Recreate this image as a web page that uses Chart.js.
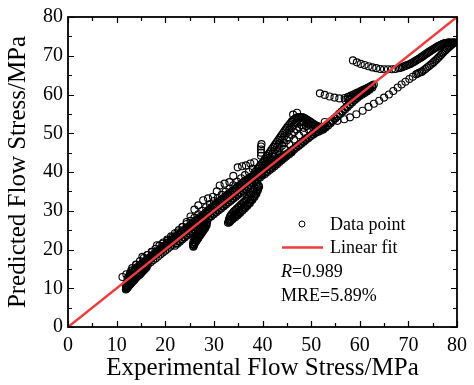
<!DOCTYPE html>
<html>
<head>
<meta charset="utf-8">
<script src="https://cdn.jsdelivr.net/npm/chart.js@4.4.1/dist/chart.umd.min.js"></script>
<style>
  html, body { margin: 0; padding: 0; background: #fff; }
  canvas { display: block; }
</style>
</head>
<body>
<canvas id="chart" width="474" height="385"></canvas>
<script>
// axis ticks
const xTicks = [0, 10, 20, 30, 40, 50, 60, 70, 80];
const yTicks = [0, 10, 20, 30, 40, 50, 60, 70, 80];

// linear fit (y = x)
const fitX = [0, 80];
const fitY = [0, 80];

// legend / stats text
const legendLabels = ['Data point', 'Linear fit'];
const statR = '0.989';
const statMRE = '5.89%';

// experimental vs predicted points, grouped by curve
const lowBlob = [
  [11.9,9.7],[12.1,10.0],[12.3,10.3],[12.5,10.6],[12.7,10.9],[12.9,11.2],[13.1,11.5],[13.3,11.8],[13.5,12.0],
  [13.7,12.3],[13.9,12.6],[14.1,12.9],[14.4,13.2],[14.7,13.5],[15.0,13.9],[15.3,14.3],[15.6,14.7],[15.9,15.1],[16.2,15.5],
  [11.9,10.6],[12.0,11.2],[12.2,11.7],[12.4,12.1],[12.7,12.4],[13.0,12.7],[13.3,13.0],[13.6,13.3],[13.9,13.6],
  [14.2,13.9],[14.5,14.2],[14.8,14.6],[15.1,15.0],[15.4,15.4],[15.7,15.8],[16.0,16.2],[16.3,16.6],
  [12.0,9.9],[12.2,10.15],[12.4,10.45],[12.6,10.75],[12.8,11.05],[13.0,11.35],[13.2,11.65],[13.4,11.9],[13.6,12.15],
  [13.8,12.45],[14.0,12.75],[14.25,13.05],[14.55,13.35],[14.85,13.7],[15.15,14.1],[15.45,14.5],[15.75,14.9],[16.05,15.3],
  [12.05,10.3],[12.25,10.6],[12.45,10.9],[12.65,11.2],[12.85,11.5],[13.05,11.8],[13.25,12.1],[13.45,12.4],[13.7,12.7],
  [13.95,13.0],[14.2,13.3],[14.5,13.6],[14.8,14.0],[15.1,14.4],[15.4,14.8],[15.7,15.2],[16.0,15.6]
];

const bandCore = [
  [12.5,13.0],[13.0,13.6],[13.5,14.2],[14.0,14.8],[14.5,15.4],[15.0,15.9],[15.5,16.4],[16.0,16.9],[16.5,17.4],[17.0,17.9],
  [17.5,18.4],[18.0,18.9],[18.5,19.4],[19.0,19.9],[19.5,20.4],[20.0,20.9],[20.5,21.4],[21.0,21.9],[21.5,22.4],[22.0,22.9],
  [22.5,23.4],[23.0,23.9],[23.5,24.4],[24.0,24.9],[24.5,25.4],[25.0,25.9],[25.5,26.4],[26.0,26.9],[26.5,27.4],[27.0,27.9],
  [27.5,28.4],[28.0,28.9],[28.5,29.5],[29.0,30.0],[29.5,30.6],[30.0,31.1],[30.5,31.6],[31.0,32.1],[31.5,32.6],[32.0,33.1],
  [32.5,33.6],[33.0,34.1],[33.5,34.6],[34.0,35.1],[34.5,35.6],[35.0,36.1],[35.5,36.6],[36.0,37.1],[36.5,37.6],[37.0,38.0],
  [37.5,38.4],[38.0,38.8],[38.5,39.2],[39.0,39.6],[39.5,40.0],[40.0,40.4],[40.5,40.8],[41.0,41.3],[41.5,41.7],[42.0,42.1],
  [42.5,42.5],[43.0,42.9],[43.5,43.3],[44.0,43.7],[44.5,44.1],[45.0,44.5],[45.5,44.9],[46.0,45.3],[46.5,45.8],[47.0,46.3],
  [47.5,46.8],[48.0,47.3],[48.5,47.8],[49.0,48.3],[49.5,48.8],[50.0,49.3],[50.5,49.7],[51.0,50.1],[51.5,50.4],[52.0,50.7],
  [52.5,51.0],[53.0,51.5],[53.5,52.0],[54.0,52.6],[54.5,53.2],[55.0,53.8],[55.5,54.4],[56.0,55.0],[56.5,55.6],[57.0,56.2],
  [57.5,56.8],[58.0,57.4],[58.5,58.0],[59.0,58.6],[59.5,59.1],[60.0,59.6],[60.5,60.0],[61.0,60.4],[61.5,60.8],[62.0,61.2]
];

const bandCoreB = [
  [12.75,13.85],[13.25,14.45],[13.75,15.0],[14.25,15.5],[14.75,16.0],[15.25,16.45],[15.75,16.95],[16.25,17.45],[16.75,17.95],
  [17.25,18.45],[17.75,18.95],[18.25,19.45],[18.75,19.95],[19.25,20.45],[19.75,20.95],[20.25,21.45],[20.75,21.95],[21.25,22.45],
  [21.75,22.95],[22.25,23.45],[22.75,23.95],[23.25,24.45],[23.75,24.95],[24.25,25.45],[24.75,25.95],[25.25,26.45],[25.75,26.95],
  [26.25,27.45],[26.75,27.95],[27.25,28.45],[27.75,28.95],[28.25,29.5],[28.75,30.05],[29.25,30.6],[29.75,31.1],[30.25,31.6],
  [30.75,32.1],[31.25,32.6],[31.75,33.1],[32.25,33.6],[32.75,34.1],[33.25,34.6],[33.75,35.1],[34.25,35.6],[34.75,36.1],
  [35.25,36.6],[35.75,37.1],[36.25,37.6],[36.75,38.05],[37.25,38.45],[37.75,38.85],[38.25,39.25],[38.75,39.65],[39.25,40.05],
  [39.75,40.45],[40.25,40.85],[40.75,41.3],[41.25,41.7],[41.75,42.1],[42.25,42.5],[42.75,42.9],[43.25,43.3],[43.75,43.7],
  [44.25,44.1],[44.75,44.5],[45.25,44.9],[45.75,45.3],[46.25,45.8],[46.75,46.3],[47.25,46.8],[47.75,47.3],[48.25,47.8],
  [48.75,48.3],[49.25,48.8],[49.75,49.3],[50.25,49.8],[50.75,50.2],[51.25,50.6],[51.75,50.9],[52.25,51.2],[52.75,51.6],
  [53.25,52.1],[53.75,52.6],[54.25,53.2],[54.75,53.8],[55.25,54.4],[55.75,55.0],[56.25,55.6],[56.75,56.2],[57.25,56.8],
  [57.75,57.4],[58.25,58.0],[58.75,58.6],[59.25,59.1],[59.75,59.6],[60.25,60.1],[60.75,60.5],[61.25,60.9],[61.75,61.3]
];

const bandCoreC = [
  [12.25,12.6],[12.75,13.2],[13.25,13.8],[13.75,14.3],[14.25,14.8],[14.75,15.3],[15.25,15.8],[15.75,16.3],[16.25,16.8],
  [16.75,17.3],[17.25,17.8],[17.75,18.3],[18.25,18.8],[18.75,19.3],[19.25,19.8],[19.75,20.3],[20.25,20.8],[20.75,21.3],
  [21.25,21.8],[21.75,22.3],[22.25,22.8],[22.75,23.3],[23.25,23.8],[23.75,24.3],[24.25,24.8],[24.75,25.3],[25.25,25.8],
  [25.75,26.3],[26.25,26.8],[26.75,27.3],[27.25,27.8],[27.75,28.3],[28.25,28.8],[28.75,29.3],[29.25,29.8],[29.75,30.3],
  [30.25,30.8],[30.75,31.3],[31.25,31.8],[31.75,32.3],[32.25,32.8],[32.75,33.3],[33.25,33.8],[33.75,34.3],[34.25,34.8],
  [34.75,35.3],[35.25,35.8],[35.75,36.3],[36.25,36.8],[36.75,37.3],[37.25,37.7],[37.75,38.1],[38.25,38.5],[38.75,38.9],
  [39.25,39.3],[39.75,39.7]
];

const bandLower = [
  [22.0,21.0],[22.5,21.5],[23.0,22.0],[23.5,22.6],[24.0,23.1],[24.5,23.6],[25.0,24.1],[25.5,24.6],[26.0,25.1],[26.5,25.6],
  [27.0,26.1],[27.5,26.6],[28.0,27.1],[28.5,27.6],[29.0,28.1],[29.5,28.6],[30.0,29.1],[30.5,29.6],[31.0,30.1],[31.5,30.6],
  [32.0,31.1],[32.5,31.6],[33.0,32.1],[33.5,32.6],[34.0,33.1],[34.5,33.6],[35.0,34.1],[35.5,34.6],[36.0,35.1],[36.5,35.6],
  [37.0,36.1],[37.5,36.6],[38.0,37.1],[38.5,37.6],[39.0,38.1],[39.5,38.6],[40.0,39.1],[40.5,39.5],[41.0,40.0],[41.5,40.5],
  [42.0,41.0],[42.5,41.5],[43.0,42.0],[43.5,42.6],[44.0,43.1],[44.5,43.6],[45.0,44.1],[45.5,44.6],[46.0,45.1]
];

const bandLowerB = [
  [16.5,16.2],[17.0,16.7],[17.5,17.2],[18.0,17.7],[18.5,18.2],[19.0,18.7],[19.5,19.2],[20.0,19.7],[20.5,20.2],[21.0,20.7],
  [21.5,21.2],[22.25,21.65],[22.75,22.15],[23.25,22.65],[23.75,23.15],[24.25,23.65],[24.75,24.15],[25.25,24.65],[25.75,25.15],
  [26.25,25.65],[26.75,26.15],[27.25,26.65],[27.75,27.15],[28.25,27.65],[28.75,28.15],[29.25,28.65],[29.75,29.15],[30.25,29.65],
  [30.75,30.15],[31.25,30.65],[31.75,31.15],[32.25,31.65],[32.75,32.15],[33.25,32.65],[33.75,33.15],[34.25,33.65],[34.75,34.15],
  [35.25,34.65],[35.75,35.15],[36.25,35.65],[36.75,36.15],[37.25,36.65],[37.75,37.15],[38.25,37.65],[38.75,38.15],[39.25,38.65],
  [39.75,39.15],[40.25,39.65],[40.75,40.15],[41.25,40.65],[41.75,41.15],[42.25,41.65],[42.75,42.15],[43.25,42.65],[43.75,43.15],
  [44.25,43.65],[44.75,44.15],[45.25,44.65],[45.75,45.15]
];

const bandUpper = [
  [13.2,15.2],[14.0,16.1],[14.8,17.0],[15.6,17.8],[16.4,18.6],[17.2,19.4],[18.0,20.2],[18.8,21.0],[19.6,21.8],[20.4,22.6],
  [21.2,23.4],[22.0,24.2],[22.8,25.0],[23.6,25.8],[24.4,26.6],[25.2,27.4],[26.0,28.2],[26.8,29.1],[27.6,30.0],[28.4,30.9],
  [29.2,31.7],[30.0,32.5],[30.8,33.3],[31.6,34.1],[32.4,34.9],[33.2,35.7],[34.0,36.6],[34.8,37.5],[35.6,38.4],[36.4,39.2],
  [37.2,40.0],[38.0,40.8]
];

const bandTop = [
  [11.2,12.9],[12.0,13.6],[13.0,14.6],[14.0,16.0],[15.3,18.1],[16.3,18.6],[17.3,19.4],[18.3,21.1],[19.4,21.5],[20.5,22.3],
  [21.5,23.2],[22.5,24.4],[23.5,25.8],[24.4,27.1],[25.2,28.5],[26.0,30.3],[26.8,31.4],[27.8,32.7],[28.8,33.2],[29.8,33.6],
  [30.6,35.0],[31.2,36.5],[32.2,37.0],[33.2,37.4],[34.0,39.0],[34.9,41.2],[35.8,41.5],[36.6,41.7],[37.5,42.2],[38.3,42.5],
  [39.7,44.2],[39.7,45.0],[39.7,45.8],[39.7,46.6],[39.8,47.2]
];

const hookA = [
  [28.6,27.0],[28.4,26.4],[28.2,25.8],[27.9,25.2],[27.6,24.6],[27.3,24.0],[27.0,23.4],[26.7,22.8],[26.4,22.2],[26.1,21.6],
  [25.9,21.1],[25.8,20.7],[28.0,26.8],[27.7,26.2],[27.4,25.6],[27.1,25.0],[26.8,24.4],[26.5,23.8],[26.2,23.2],[26.0,22.6],
  [25.8,22.0],[25.7,21.4],
  [28.3,26.7],[28.05,26.1],[27.75,25.5],[27.45,24.9],[27.15,24.3],[26.85,23.7],[26.55,23.1],[26.25,22.5],[26.0,21.9],[25.85,21.3],
  [28.5,26.2],[28.2,25.5],[27.85,24.85],[27.5,24.2],[27.15,23.6],[26.8,23.0],[26.45,22.4],[26.15,21.85],[25.95,21.35],[25.75,20.9]
];

const hookB = [
  [39.2,36.5],[39.0,35.6],[38.7,34.7],[38.3,33.8],[37.8,33.0],[37.3,32.2],[36.8,31.5],[36.3,30.9],[35.8,30.3],[35.3,29.7],
  [34.8,29.1],[34.3,28.6],[33.8,28.1],[33.4,27.6],[33.1,27.2],[32.9,26.9],[38.4,35.8],[38.0,34.9],[37.5,34.1],[37.0,33.3],
  [36.5,32.6],[36.0,32.0],[35.5,31.4],[35.0,30.8],[34.5,30.2],[34.0,29.6],[33.6,29.0],[33.3,28.4],[33.1,27.8],
  [39.1,36.0],[38.85,35.1],[38.5,34.2],[38.05,33.4],[37.55,32.6],[37.05,31.8],[36.55,31.2],[36.05,30.6],[35.55,30.0],
  [35.05,29.4],[34.55,28.8],[34.05,28.3],[33.6,27.8],[33.25,27.4],[38.8,36.2],[38.2,35.3],[37.7,34.5],[37.2,33.7],
  [36.7,33.0],[36.2,32.3],[35.7,31.7],[35.2,31.1],[34.7,30.5],[34.2,29.9],[33.8,29.3],[33.45,28.7],
  [39.3,36.2],[39.05,35.3],[38.75,34.4],[38.35,33.55],[37.9,32.75],[37.4,31.95],[36.9,31.3],[36.4,30.65],[35.9,30.05],
  [35.4,29.45],[34.9,28.85],[34.4,28.35],[33.9,27.85],[33.45,27.35],[33.15,27.0]
];

const archArm = [
  [38.5,40.0],[39.0,40.8],[39.5,41.6],[40.0,42.4],[40.5,43.3],[41.0,44.2],[41.5,45.1],[42.0,46.0],[42.5,46.9],[43.0,47.8],
  [43.5,48.7],[44.0,49.6],[44.5,50.5],[45.0,51.4],[45.5,52.2],[46.0,53.0],[46.5,53.6],[47.0,54.0],[47.5,54.2],[48.0,54.2],
  [48.5,54.0],[49.0,53.6],[49.5,53.2],[50.0,52.8],[50.5,52.4],[51.0,52.0],[51.5,51.7],[52.0,51.4],[52.5,51.2],
  [40.5,42.0],[41.0,42.9],[41.5,43.8],[42.0,44.7],[42.5,45.6],[43.0,46.5],[43.5,47.4],[44.0,48.3],[44.5,49.2],[45.0,50.0],
  [45.5,50.8],[46.0,51.5],[46.5,52.1],[47.0,52.6],[47.5,52.9],[48.0,53.0],[48.5,52.9],[49.0,52.6],[49.5,52.3],[50.0,52.0],
  [41.5,42.0],[42.5,43.3],[43.5,44.6],[44.5,45.9],[45.5,47.2],[46.5,48.4],[47.5,49.5],[48.5,50.4],[49.5,51.0],
  [46.3,54.8],[47.1,55.3]
];

const archArmB = [
  [38.75,40.4],[39.25,41.2],[39.75,42.0],[40.25,42.85],[40.75,43.75],[41.25,44.65],[41.75,45.55],[42.25,46.45],[42.75,47.35],
  [43.25,48.25],[43.75,49.15],[44.25,50.05],[44.75,50.95],[45.25,51.8],[45.75,52.6],[46.25,53.3],[46.75,53.8],[47.25,54.1],
  [47.75,54.2],[48.25,54.1],[48.75,53.8],[49.25,53.4],[49.75,53.0],[50.25,52.6],[50.75,52.2],[51.25,51.85],[51.75,51.55],
  [52.25,51.3],
  [40.0,41.2],[40.5,41.9],[41.0,42.6],[41.5,43.3],[42.0,44.0],[42.5,44.7],[43.0,45.4],[43.5,46.1],[44.0,46.8],[44.5,47.5],
  [45.0,48.2],[45.5,48.9],[46.0,49.6],[46.5,50.3],[47.0,51.0],[47.5,51.6],[48.0,52.1],[48.5,51.4],[49.0,51.8],[50.5,51.3],
  [51.0,51.2]
];

const midCurve = [
  [51.8,60.3],[52.8,59.9],[53.8,59.5],[54.8,59.2],[55.8,59.0],[56.9,59.1],[57.6,59.4],[58.2,59.7],[58.7,60.0],[59.2,60.3],
  [59.7,60.6],[60.2,60.9],[60.7,61.2],[61.2,61.5],[61.7,61.8],[62.2,62.1],[62.6,62.4],[62.9,62.6],
  [57.8,58.6],[58.4,59.0],[59.0,59.4],[59.6,59.8],[60.2,60.2],[60.8,60.6],[61.4,61.0],[62.0,61.4],[62.6,61.8],
  [58.0,59.0],[58.5,59.4],[59.0,59.8],[59.5,60.2],[60.0,60.5],[60.5,60.9],[61.0,61.2],[61.5,61.5],[62.0,61.8],[62.5,62.1],
  [57.5,58.9],[57.0,58.6]
];

const upperCurve = [
  [58.6,68.8],[59.4,68.3],[60.2,67.9],[61.0,67.6],[61.8,67.3],[62.6,67.0],[63.4,66.8],[64.2,66.6],[65.0,66.5],[65.8,66.5],
  [66.6,66.5],[67.3,66.6],[68.0,66.8],[68.6,67.0],[69.2,67.3],[69.8,67.6],[70.4,67.9],[71.0,68.3],[71.5,68.7],[72.0,69.1],
  [72.5,69.5],[73.0,69.9],[73.5,70.4],[74.0,70.8],[74.5,71.2],[75.0,71.6],[75.5,72.0],[76.0,72.4],[76.5,72.7],[77.0,73.0],
  [77.4,73.2],[77.8,73.3],[78.2,73.4],[78.5,73.4],[78.8,73.3],[79.1,73.4],
  [68.3,66.9],[68.9,67.15],[69.5,67.45],[70.1,67.75],[70.7,68.1],[71.25,68.5],[71.75,68.9],[72.25,69.3],[72.75,69.7],
  [73.25,70.15],[73.75,70.6],[74.25,71.0],[74.75,71.4],[75.25,71.8],[75.75,72.2],[76.25,72.55],[76.75,72.85],[77.2,73.1],
  [77.6,73.25],[78.0,73.35],[78.35,73.4],[78.65,73.35],[78.95,73.35],[79.3,73.4]
];

const lowerCurve = [
  [52.8,52.9],[54.0,53.0],[55.4,53.2],[56.8,53.6],[58.0,54.1],[59.3,54.9],[60.6,55.8],[61.8,56.8],[62.9,57.6],[64.0,58.4],
  [65.0,59.2],[66.0,60.0],[66.9,60.9],[67.8,61.8],[68.6,62.6],[69.4,63.3],[70.2,64.0],[70.9,64.6],[71.6,65.2],[72.2,65.6],
  [72.8,65.9],[73.5,66.6],[74.2,67.3],[74.9,68.0],[75.5,68.7],[76.1,69.4],[76.7,70.2],[77.2,70.9],[77.7,71.5],[78.2,72.1],
  [78.6,72.6],[79.0,73.0],[79.3,73.3],[79.5,73.5],
  [71.9,65.4],[72.5,65.75],[73.15,66.25],[73.85,66.95],[74.55,67.65],[75.2,68.35],[75.8,69.05],[76.4,69.8],[76.95,70.55],
  [77.45,71.2],[77.95,71.8],[78.4,72.35],[78.8,72.8],[79.15,73.15]
];

const serif = "'Liberation Serif', 'Times New Roman', serif";

const allPoints = [].concat(lowBlob, bandCore, bandCoreB, bandCoreC, bandLower, bandLowerB, bandUpper, bandTop,
  hookA, hookB, archArm, archArmB, midCurve, upperCurve, lowerCurve).map(p => ({ x: p[0], y: p[1] }));

const fitPoints = fitX.map((x, i) => ({ x: x, y: fitY[i] }));

// inward ticks on all four sides + frame
const framePlugin = {
  id: 'frame',
  afterDraw(chart) {
    const { ctx, chartArea: a, scales: { x, y } } = chart;
    ctx.save();
    ctx.strokeStyle = '#000';
    ctx.lineWidth = 1.2;
    for (let v = 0; v <= 80; v += 5) {
      const len = v % 10 === 0 ? 6 : 4;
      const px = Math.round(x.getPixelForValue(v)) + 0.5;
      const py = Math.round(y.getPixelForValue(v)) + 0.5;
      ctx.beginPath();
      ctx.moveTo(px, a.bottom); ctx.lineTo(px, a.bottom - len);
      ctx.moveTo(px, a.top); ctx.lineTo(px, a.top + len);
      ctx.moveTo(a.left, py); ctx.lineTo(a.left + len, py);
      ctx.moveTo(a.right, py); ctx.lineTo(a.right - len, py);
      ctx.stroke();
    }
    ctx.lineWidth = 1.8;
    ctx.strokeRect(a.left, a.top, a.right - a.left, a.bottom - a.top);
    ctx.restore();
  }
};

// legend + statistics inside the plot
const legendPlugin = {
  id: 'innerLegend',
  afterDraw(chart) {
    const ctx = chart.ctx;
    ctx.save();
    ctx.fillStyle = '#000';
    ctx.textBaseline = 'middle';
    ctx.textAlign = 'left';
    ctx.font = '18px ' + serif;

    ctx.beginPath();
    ctx.strokeStyle = '#000';
    ctx.lineWidth = 1;
    ctx.arc(302, 224, 3, 0, Math.PI * 2);
    ctx.stroke();
    ctx.fillText(legendLabels[0], 330, 225);

    ctx.beginPath();
    ctx.strokeStyle = '#ee3b3b';
    ctx.lineWidth = 2.5;
    ctx.moveTo(282, 247.5);
    ctx.lineTo(323, 247.5);
    ctx.stroke();
    ctx.fillText(legendLabels[1], 330, 248);

    ctx.font = 'italic 18px ' + serif;
    ctx.fillText('R', 281, 272);
    const rw = ctx.measureText('R').width;
    ctx.font = '18px ' + serif;
    ctx.fillText('=' + statR, 281 + rw, 272);
    ctx.fillText('MRE=' + statMRE, 281, 296);
    ctx.restore();
  }
};

new Chart(document.getElementById('chart'), {
  data: {
    datasets: [
      {
        type: 'line',
        label: legendLabels[1],
        data: fitPoints,
        borderColor: '#ee3b3b',
        borderWidth: 2.5,
        pointRadius: 0,
        fill: false,
        order: 0
      },
      {
        type: 'scatter',
        label: legendLabels[0],
        data: allPoints,
        pointStyle: 'circle',
        pointRadius: 3.5,
        borderWidth: 1.1,
        borderColor: '#000',
        backgroundColor: 'rgba(0,0,0,0)',
        order: 1
      }
    ]
  },
  options: {
    responsive: false,
    animation: false,
    devicePixelRatio: 1,
    layout: { padding: { top: 16, right: 11, left: 0, bottom: 0 } },
    plugins: { legend: { display: false }, tooltip: { enabled: false } },
    scales: {
      x: {
        type: 'linear',
        min: 0,
        max: 80,
        afterBuildTicks: s => { s.ticks = xTicks.map(v => ({ value: v })); },
        afterFit: s => { s.height = 58; },
        grid: { display: false, drawTicks: false },
        border: { display: false },
        ticks: { color: '#000', padding: 7, maxRotation: 0, font: { family: serif, size: 20 } },
        title: {
          display: true,
          text: 'Experimental Flow Stress/MPa',
          color: '#000',
          font: { family: serif, size: 25 },
          padding: { top: 0, bottom: 2 }
        }
      },
      y: {
        type: 'linear',
        min: 0,
        max: 80,
        afterBuildTicks: s => { s.ticks = yTicks.map(v => ({ value: v })); },
        afterFit: s => { s.width = 68; },
        grid: { display: false, drawTicks: false },
        border: { display: false },
        ticks: { color: '#000', padding: 5, font: { family: serif, size: 20 } },
        title: {
          display: true,
          text: 'Predicted Flow Stress/MPa',
          color: '#000',
          font: { family: serif, size: 25 },
          padding: { top: 3, bottom: 0 }
        }
      }
    }
  },
  plugins: [framePlugin, legendPlugin]
});
</script>
</body>
</html>
